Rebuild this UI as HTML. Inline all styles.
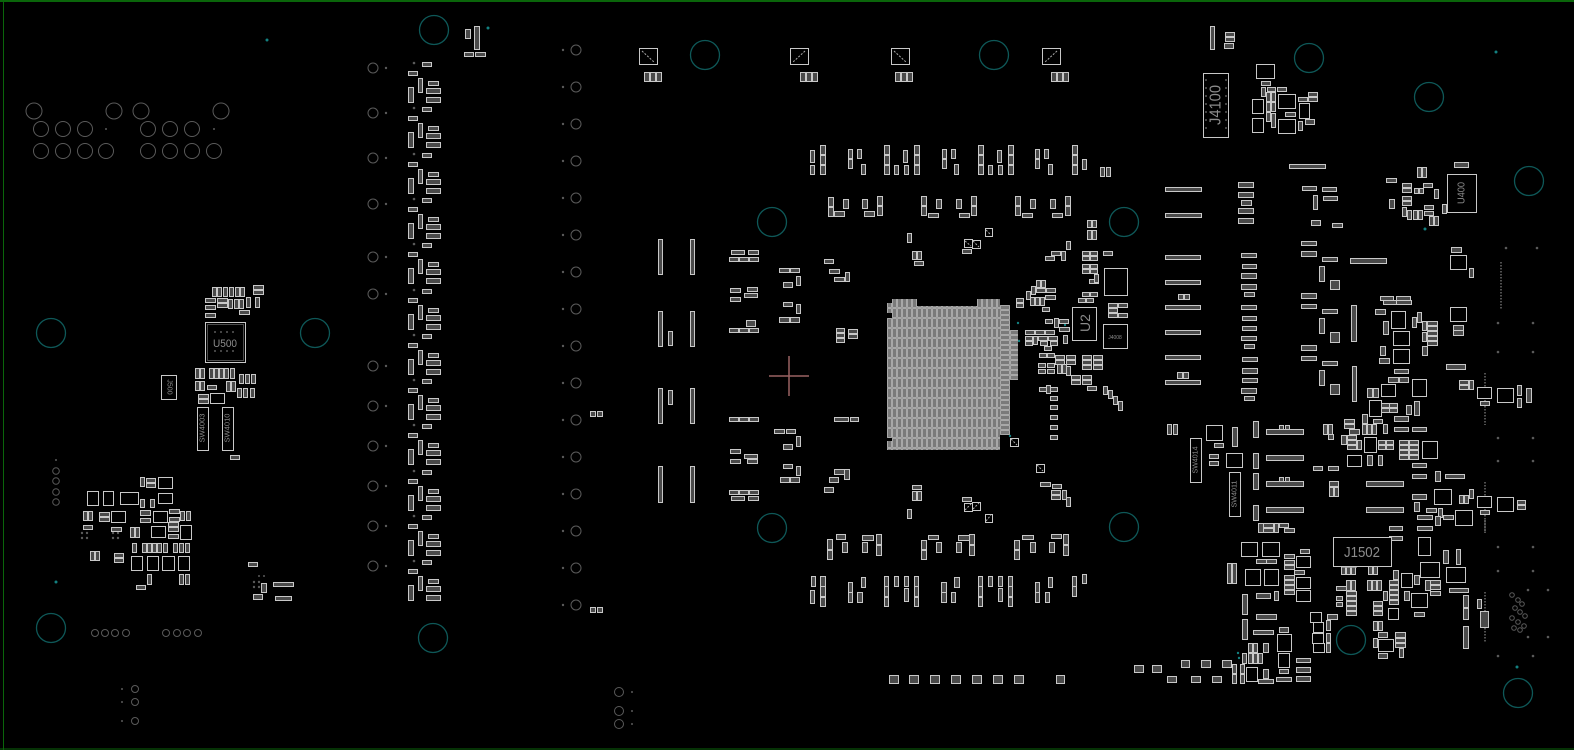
<!DOCTYPE html>
<html><head><meta charset="utf-8"><style>
html,body{margin:0;padding:0;background:#000;}
svg{display:block;}
.c rect{fill:#4a4a4a;stroke:#c8c8c8;stroke-width:1;}
.b rect{fill:#000;stroke:#c8c8c8;stroke-width:1;}
.g circle{fill:none;stroke:#5a5a5a;stroke-width:1;}
.t circle{fill:none;stroke:#0e5858;stroke-width:1.3;}
.d circle{fill:#5a5a5a;}
.td circle{fill:#138080;}
.lbl{fill:#8c8c8c;font-family:"Liberation Sans",sans-serif;}
</style></head><body>
<svg width="1574" height="750" viewBox="0 0 1574 750" xmlns="http://www.w3.org/2000/svg">
<defs>
<pattern id="bga" width="5" height="10" patternUnits="userSpaceOnUse" x="887" y="318"><rect x="0" y="0" width="5" height="10" fill="#222"/><rect x="0.5" y="0.5" width="4" height="9" fill="#7a7a7a" stroke="#cfcfcf" stroke-width="0.7"/></pattern>
<pattern id="bgh" width="10" height="5" patternUnits="userSpaceOnUse" x="1000" y="305"><rect x="0" y="0" width="10" height="5" fill="#222"/><rect x="0.5" y="0.5" width="9" height="4" fill="#7a7a7a" stroke="#cfcfcf" stroke-width="0.7"/></pattern>
<g id="lg">
<circle cx="414" cy="0" r="1.3" fill="#5a5a5a"/>
<g class="c" transform="translate(0.5,0.5)">
<rect x="422" y="-1" width="9" height="4"/>
<rect x="408" y="8" width="9" height="4"/>
<rect x="418" y="15" width="4" height="14"/>
<rect x="428" y="18" width="10" height="4"/>
<rect x="426" y="25" width="14" height="5"/>
<rect x="408" y="24" width="5" height="15"/>
<rect x="426" y="34" width="14" height="5"/>
</g>
</g>
</defs>

<!-- board border -->
<line x1="0" y1="1" x2="1574" y2="1" stroke="#0a650a" stroke-width="2"/>
<line x1="3.5" y1="0" x2="3.5" y2="750" stroke="#0a650a" stroke-width="1"/>
<line x1="0" y1="749" x2="1574" y2="749" stroke="#0a650a" stroke-width="1"/>

<!-- teal mounting holes -->
<g class="t">
<circle cx="434" cy="30" r="14.5"/><circle cx="705" cy="55" r="14.5"/><circle cx="994" cy="55" r="14.5"/>
<circle cx="1309" cy="58" r="14.5"/><circle cx="1429" cy="97" r="14.5"/><circle cx="1529" cy="181" r="14.5"/>
<circle cx="51" cy="333" r="14.5"/><circle cx="315" cy="333" r="14.5"/>
<circle cx="772" cy="222" r="14.5"/><circle cx="1124" cy="222" r="14.5"/>
<circle cx="772" cy="528" r="14.5"/><circle cx="1124" cy="527" r="14.5"/>
<circle cx="51" cy="628" r="14.5"/><circle cx="433" cy="638" r="14.5"/>
<circle cx="1351" cy="640" r="14.5"/><circle cx="1518" cy="693" r="14.5"/>
</g>
<g class="td">
<circle cx="267" cy="40" r="1.5"/><circle cx="488" cy="28" r="1.5"/><circle cx="56" cy="582" r="1.5"/>
<circle cx="1496" cy="52" r="1.5"/><circle cx="1425" cy="229" r="1.5"/><circle cx="1517" cy="667" r="1.5"/>
<circle cx="1238" cy="653" r="1.2"/><circle cx="1239" cy="658" r="1.2"/>
<circle cx="1018" cy="323" r="1.2"/><circle cx="1014" cy="338" r="1.2"/><circle cx="1019" cy="341" r="1.2"/>
<circle cx="1010" cy="436" r="1.2"/><circle cx="1065" cy="325" r="1.2"/>
</g>

<!-- gray connector circles left -->
<g class="g">
<circle cx="34" cy="111" r="8"/><circle cx="114" cy="111" r="8"/><circle cx="141" cy="111" r="8"/><circle cx="221" cy="111" r="8"/>
<circle cx="41" cy="129" r="7.5"/><circle cx="63" cy="129" r="7.5"/><circle cx="85" cy="129" r="7.5"/>
<circle cx="148" cy="129" r="7.5"/><circle cx="170" cy="129" r="7.5"/><circle cx="192" cy="129" r="7.5"/>
<circle cx="41" cy="151" r="7.5"/><circle cx="63" cy="151" r="7.5"/><circle cx="85" cy="151" r="7.5"/><circle cx="106" cy="151" r="7.5"/>
<circle cx="148" cy="151" r="7.5"/><circle cx="170" cy="151" r="7.5"/><circle cx="192" cy="151" r="7.5"/><circle cx="214" cy="151" r="7.5"/>
<circle cx="56" cy="471" r="3.3"/><circle cx="56" cy="481" r="3.3"/><circle cx="56" cy="492" r="3.3"/><circle cx="56" cy="502" r="3.3"/>
<circle cx="95" cy="633" r="3.5"/><circle cx="105" cy="633" r="3.5"/><circle cx="115" cy="633" r="3.5"/><circle cx="126" cy="633" r="3.5"/>
<circle cx="166" cy="633" r="3.5"/><circle cx="177" cy="633" r="3.5"/><circle cx="187" cy="633" r="3.5"/><circle cx="198" cy="633" r="3.5"/>
<circle cx="135" cy="689" r="3.5"/><circle cx="135" cy="702" r="3.5"/><circle cx="135" cy="721" r="3.5"/>
<!-- column x=373 -->
<circle cx="373" cy="68" r="5"/><circle cx="373" cy="113" r="5"/><circle cx="373" cy="158" r="5"/><circle cx="373" cy="204" r="5"/>
<circle cx="373" cy="257" r="5"/><circle cx="373" cy="294" r="5"/><circle cx="373" cy="366" r="5"/><circle cx="373" cy="406" r="5"/>
<circle cx="373" cy="446" r="5"/><circle cx="373" cy="486" r="5"/><circle cx="373" cy="526" r="5"/><circle cx="373" cy="566" r="5"/>
<!-- column x=576 -->
<circle cx="576" cy="50" r="5"/><circle cx="576" cy="87" r="5"/><circle cx="576" cy="124" r="5"/><circle cx="576" cy="161" r="5"/>
<circle cx="576" cy="198" r="5"/><circle cx="576" cy="235" r="5"/><circle cx="576" cy="272" r="5"/><circle cx="576" cy="309" r="5"/>
<circle cx="576" cy="346" r="5"/><circle cx="576" cy="383" r="5"/><circle cx="576" cy="420" r="5"/><circle cx="576" cy="457" r="5"/>
<circle cx="576" cy="494" r="5"/><circle cx="576" cy="531" r="5"/><circle cx="576" cy="568" r="5"/><circle cx="576" cy="605" r="5"/>
<circle cx="619" cy="692" r="4.5"/><circle cx="619" cy="711" r="4.5"/><circle cx="619" cy="724" r="4.5"/>
<!-- right dot cluster -->
<circle cx="1512" cy="595" r="2.3"/><circle cx="1518" cy="600" r="2.3"/><circle cx="1522" cy="604" r="2.3"/><circle cx="1515" cy="608" r="2.3"/>
<circle cx="1520" cy="612" r="2.3"/><circle cx="1525" cy="616" r="2.3"/><circle cx="1512" cy="618" r="2.3"/><circle cx="1518" cy="622" r="2.3"/>
<circle cx="1524" cy="626" r="2.3"/><circle cx="1520" cy="630" r="2.3"/><circle cx="1514" cy="628" r="2.3"/>
</g>
<g class="d">
<circle cx="106" cy="129" r="1"/><circle cx="214" cy="129" r="1"/><circle cx="56" cy="460" r="1"/>
<circle cx="122" cy="689" r="1"/><circle cx="122" cy="702" r="1"/><circle cx="122" cy="721" r="1"/>
<circle cx="386" cy="68" r="1.2"/><circle cx="386" cy="113" r="1.2"/><circle cx="386" cy="158" r="1.2"/><circle cx="386" cy="204" r="1.2"/>
<circle cx="386" cy="257" r="1.2"/><circle cx="386" cy="294" r="1.2"/><circle cx="386" cy="366" r="1.2"/><circle cx="386" cy="406" r="1.2"/>
<circle cx="386" cy="446" r="1.2"/><circle cx="386" cy="486" r="1.2"/><circle cx="386" cy="526" r="1.2"/><circle cx="386" cy="566" r="1.2"/>
<circle cx="563" cy="50" r="1.2"/><circle cx="563" cy="87" r="1.2"/><circle cx="563" cy="124" r="1.2"/><circle cx="563" cy="161" r="1.2"/>
<circle cx="563" cy="198" r="1.2"/><circle cx="563" cy="235" r="1.2"/><circle cx="563" cy="272" r="1.2"/><circle cx="563" cy="309" r="1.2"/>
<circle cx="563" cy="346" r="1.2"/><circle cx="563" cy="383" r="1.2"/><circle cx="563" cy="420" r="1.2"/><circle cx="563" cy="457" r="1.2"/>
<circle cx="563" cy="494" r="1.2"/><circle cx="563" cy="531" r="1.2"/><circle cx="563" cy="568" r="1.2"/><circle cx="563" cy="605" r="1.2"/>
<circle cx="632" cy="692" r="1"/><circle cx="632" cy="711" r="1"/><circle cx="632" cy="724" r="1"/>
<circle cx="1498" cy="323" r="1.3"/><circle cx="1533" cy="323" r="1.3"/><circle cx="1498" cy="352" r="1.3"/><circle cx="1533" cy="352" r="1.3"/>
<circle cx="1498" cy="438" r="1.3"/><circle cx="1533" cy="438" r="1.3"/><circle cx="1498" cy="461" r="1.3"/><circle cx="1533" cy="461" r="1.3"/>
<circle cx="1498" cy="547" r="1.3"/><circle cx="1533" cy="547" r="1.3"/><circle cx="1498" cy="571" r="1.3"/><circle cx="1533" cy="571" r="1.3"/>
<circle cx="1528" cy="590" r="1.3"/><circle cx="1548" cy="590" r="1.3"/><circle cx="1528" cy="637" r="1.3"/><circle cx="1548" cy="637" r="1.3"/>
<circle cx="1498" cy="656" r="1.3"/><circle cx="1533" cy="656" r="1.3"/><circle cx="1506" cy="248" r="1.3"/><circle cx="1537" cy="248" r="1.3"/>
<!-- small via arrays left cluster -->
<circle cx="82" cy="533" r="1.2"/><circle cx="87" cy="533" r="1.2"/><circle cx="82" cy="538" r="1.2"/><circle cx="87" cy="538" r="1.2"/>
<circle cx="113" cy="533" r="1.2"/><circle cx="118" cy="533" r="1.2"/><circle cx="113" cy="538" r="1.2"/><circle cx="118" cy="538" r="1.2"/>
<circle cx="254" cy="582" r="1.2"/><circle cx="259" cy="582" r="1.2"/><circle cx="254" cy="587" r="1.2"/><circle cx="259" cy="587" r="1.2"/>
<circle cx="259" cy="576" r="1"/><circle cx="264" cy="576" r="1"/>
</g>

<!-- dotted lines right -->
<g stroke="#6a6a6a" stroke-width="1.5" stroke-dasharray="1.5,1.5">
<line x1="1501" y1="262" x2="1501" y2="310"/>
<line x1="1485" y1="373" x2="1485" y2="425"/>
<line x1="1485" y1="482" x2="1485" y2="533"/>
<line x1="1485" y1="592" x2="1485" y2="643"/>
<line x1="1485" y1="520" x2="1485" y2="533"/>
</g>

<!-- left column repeated groups -->
<use href="#lg" y="63"/><use href="#lg" y="108"/><use href="#lg" y="154"/><use href="#lg" y="199"/>
<use href="#lg" y="244"/><use href="#lg" y="290"/><use href="#lg" y="335"/><use href="#lg" y="380"/>
<use href="#lg" y="425"/><use href="#lg" y="471"/><use href="#lg" y="516"/><use href="#lg" y="561"/>

<!-- BGA -->
<rect x="887" y="318" width="113" height="120" fill="url(#bga)"/>
<rect x="907" y="306" width="70" height="12" fill="url(#bga)"/>
<rect x="892" y="299" width="25" height="19" fill="url(#bga)"/>
<rect x="887" y="303" width="5" height="10" fill="url(#bga)"/>
<rect x="977" y="299" width="23" height="19" fill="url(#bga)"/>
<rect x="907" y="438" width="70" height="12" fill="url(#bga)"/>
<rect x="892" y="438" width="25" height="12" fill="url(#bga)"/>
<rect x="887" y="441" width="5" height="9" fill="url(#bga)"/>
<rect x="977" y="438" width="23" height="12" fill="url(#bga)"/>
<rect x="1000" y="305" width="10" height="130" fill="url(#bgh)"/>
<rect x="1010" y="330" width="8" height="50" fill="url(#bgh)"/>

<!-- red cross -->
<g stroke="#9a6262" stroke-width="1.5">
<line x1="769" y1="376" x2="809" y2="376"/><line x1="789" y1="356" x2="789" y2="396"/>
</g>

<!-- pads / small parts -->
<g class="c" transform="translate(0.5,0.5)">
<!-- top small connector -->
<rect x="474" y="26" width="5" height="23"/><rect x="465" y="29" width="5" height="9"/><rect x="464" y="52" width="9" height="4"/><rect x="475" y="52" width="10" height="4"/>
<!-- left cluster -->
<rect x="140" y="477" width="4" height="9"/><rect x="146" y="478" width="9" height="4"/><rect x="146" y="483" width="9" height="4"/>
<rect x="140" y="499" width="4" height="8"/><rect x="150" y="499" width="4" height="8"/>
<rect x="83" y="511" width="4" height="9"/><rect x="88" y="511" width="4" height="9"/><rect x="99" y="512" width="10" height="4"/><rect x="99" y="517" width="10" height="4"/>
<rect x="140" y="510" width="10" height="5"/><rect x="140" y="518" width="10" height="4"/>
<rect x="169" y="509" width="10" height="4"/><rect x="169" y="517" width="10" height="4"/><rect x="180" y="511" width="4" height="9"/><rect x="186" y="511" width="4" height="9"/>
<rect x="83" y="525" width="9" height="4"/><rect x="111" y="527" width="10" height="4"/><rect x="130" y="527" width="4" height="10"/><rect x="135" y="527" width="4" height="10"/>
<rect x="168" y="522" width="10" height="4"/><rect x="168" y="527" width="10" height="4"/><rect x="168" y="534" width="10" height="4"/>
<rect x="90" y="551" width="4" height="9"/><rect x="95" y="551" width="4" height="9"/><rect x="114" y="553" width="9" height="4"/><rect x="114" y="558" width="9" height="4"/>
<rect x="132" y="543" width="4" height="9"/><rect x="142" y="543" width="4" height="9"/><rect x="147" y="543" width="4" height="9"/><rect x="152" y="543" width="4" height="9"/>
<rect x="157" y="543" width="4" height="9"/><rect x="163" y="543" width="4" height="9"/><rect x="173" y="543" width="4" height="9"/><rect x="179" y="543" width="4" height="9"/><rect x="185" y="543" width="4" height="9"/>
<rect x="147" y="574" width="4" height="10"/><rect x="179" y="574" width="4" height="10"/><rect x="185" y="574" width="4" height="10"/><rect x="136" y="585" width="9" height="4"/>
<rect x="248" y="562" width="9" height="4"/><rect x="273" y="582" width="20" height="4"/><rect x="275" y="596" width="16" height="4"/><rect x="261" y="583" width="5" height="9"/><rect x="253" y="594" width="9" height="5"/><rect x="230" y="455" width="9" height="4"/>
<!-- U500 area -->
<rect x="212" y="287" width="4" height="9"/><rect x="217" y="287" width="4" height="9"/><rect x="223" y="287" width="4" height="9"/><rect x="229" y="287" width="4" height="9"/><rect x="235" y="287" width="4" height="9"/><rect x="240" y="287" width="4" height="9"/>
<rect x="253" y="285" width="10" height="4"/><rect x="253" y="290" width="10" height="4"/>
<rect x="205" y="298" width="10" height="4"/><rect x="205" y="305" width="10" height="4"/><rect x="205" y="313" width="10" height="4"/>
<rect x="217" y="298" width="10" height="4"/><rect x="217" y="303" width="10" height="4"/>
<rect x="228" y="299" width="4" height="9"/><rect x="234" y="299" width="4" height="9"/><rect x="239" y="299" width="4" height="9"/>
<rect x="246" y="297" width="4" height="10"/><rect x="255" y="297" width="4" height="10"/><rect x="239" y="310" width="10" height="4"/>
<rect x="195" y="368" width="4" height="10"/><rect x="200" y="368" width="4" height="10"/>
<rect x="209" y="368" width="4" height="10"/><rect x="214" y="368" width="4" height="10"/><rect x="219" y="368" width="4" height="10"/><rect x="224" y="368" width="4" height="10"/><rect x="230" y="368" width="4" height="10"/>
<rect x="239" y="374" width="4" height="9"/><rect x="245" y="374" width="4" height="9"/><rect x="251" y="374" width="4" height="9"/>
<rect x="237" y="388" width="4" height="9"/><rect x="243" y="388" width="4" height="9"/><rect x="250" y="388" width="4" height="9"/>
<rect x="195" y="381" width="4" height="9"/><rect x="200" y="381" width="4" height="9"/><rect x="207" y="385" width="9" height="4"/>
<rect x="226" y="381" width="4" height="10"/><rect x="231" y="381" width="4" height="10"/>
<rect x="198" y="394" width="10" height="4"/><rect x="198" y="399" width="10" height="4"/>
<!-- middle column bars -->
<rect x="658" y="239" width="4" height="35"/><rect x="690" y="239" width="4" height="35"/>
<rect x="658" y="311" width="4" height="35"/><rect x="690" y="311" width="4" height="35"/>
<rect x="658" y="388" width="4" height="35"/><rect x="690" y="388" width="4" height="35"/>
<rect x="658" y="466" width="4" height="36"/><rect x="690" y="466" width="4" height="36"/>
<rect x="668" y="331" width="4" height="14"/><rect x="668" y="390" width="4" height="14"/>
<rect x="590" y="411" width="5" height="5"/><rect x="597" y="411" width="5" height="5"/><rect x="590" y="607" width="5" height="5"/><rect x="597" y="607" width="5" height="5"/>
<!-- top triples -->
<rect x="644" y="72" width="5" height="9"/><rect x="650" y="72" width="5" height="9"/><rect x="656" y="72" width="5" height="9"/>
<rect x="800" y="72" width="5" height="9"/><rect x="806" y="72" width="5" height="9"/><rect x="812" y="72" width="5" height="9"/>
<rect x="895" y="72" width="5" height="9"/><rect x="901" y="72" width="5" height="9"/><rect x="907" y="72" width="5" height="9"/>
<rect x="1051" y="72" width="5" height="9"/><rect x="1057" y="72" width="5" height="9"/><rect x="1063" y="72" width="5" height="9"/>
<!-- top row 1 -->
<rect x="810" y="150" width="4" height="12"/><rect x="810" y="165" width="4" height="9"/>
<rect x="820" y="145" width="5" height="9"/><rect x="820" y="155" width="5" height="9"/><rect x="820" y="165" width="5" height="9"/>
<rect x="848" y="149" width="4" height="9"/><rect x="848" y="159" width="4" height="9"/><rect x="857" y="149" width="4" height="9"/><rect x="861" y="164" width="4" height="10"/>
<rect x="884" y="145" width="5" height="9"/><rect x="884" y="155" width="5" height="9"/><rect x="884" y="165" width="5" height="9"/>
<rect x="894" y="165" width="4" height="9"/><rect x="903" y="150" width="4" height="12"/><rect x="904" y="165" width="4" height="9"/>
<rect x="914" y="145" width="5" height="9"/><rect x="914" y="155" width="5" height="9"/><rect x="914" y="165" width="5" height="9"/>
<rect x="942" y="149" width="4" height="9"/><rect x="942" y="159" width="4" height="9"/><rect x="951" y="149" width="4" height="9"/><rect x="954" y="164" width="4" height="10"/>
<rect x="978" y="145" width="5" height="9"/><rect x="978" y="155" width="5" height="9"/><rect x="978" y="165" width="5" height="9"/>
<rect x="988" y="165" width="4" height="9"/><rect x="997" y="150" width="4" height="12"/><rect x="998" y="165" width="4" height="9"/>
<rect x="1008" y="145" width="5" height="9"/><rect x="1008" y="155" width="5" height="9"/><rect x="1008" y="165" width="5" height="9"/>
<rect x="1035" y="149" width="4" height="9"/><rect x="1035" y="159" width="4" height="9"/><rect x="1044" y="149" width="4" height="9"/><rect x="1048" y="164" width="4" height="10"/>
<rect x="1072" y="145" width="5" height="9"/><rect x="1072" y="155" width="5" height="9"/><rect x="1072" y="165" width="5" height="9"/>
<rect x="1082" y="159" width="4" height="10"/><rect x="1100" y="167" width="4" height="9"/><rect x="1106" y="167" width="4" height="9"/>
<!-- top row 2 -->
<rect x="828" y="197" width="5" height="9"/><rect x="828" y="207" width="5" height="9"/><rect x="843" y="199" width="5" height="9"/><rect x="834" y="211" width="10" height="5"/>
<rect x="862" y="199" width="5" height="9"/><rect x="864" y="211" width="10" height="5"/><rect x="877" y="196" width="5" height="9"/><rect x="877" y="206" width="5" height="9"/>
<rect x="921" y="196" width="5" height="9"/><rect x="921" y="206" width="5" height="9"/><rect x="936" y="199" width="5" height="9"/><rect x="928" y="213" width="10" height="4"/>
<rect x="956" y="199" width="5" height="9"/><rect x="959" y="213" width="10" height="4"/><rect x="971" y="196" width="5" height="9"/><rect x="971" y="206" width="5" height="9"/>
<rect x="1015" y="196" width="5" height="9"/><rect x="1015" y="206" width="5" height="9"/><rect x="1030" y="199" width="5" height="9"/><rect x="1022" y="213" width="10" height="4"/>
<rect x="1050" y="199" width="5" height="9"/><rect x="1052" y="213" width="10" height="4"/><rect x="1065" y="196" width="5" height="9"/><rect x="1065" y="206" width="5" height="9"/>
<!-- bottom row A -->
<rect x="827" y="539" width="5" height="10"/><rect x="827" y="550" width="5" height="9"/><rect x="836" y="534" width="9" height="5"/><rect x="842" y="542" width="5" height="10"/>
<rect x="862" y="535" width="11" height="5"/><rect x="862" y="542" width="5" height="10"/><rect x="876" y="534" width="5" height="10"/><rect x="876" y="545" width="5" height="10"/>
<rect x="921" y="540" width="5" height="9"/><rect x="921" y="550" width="5" height="9"/><rect x="928" y="535" width="10" height="4"/><rect x="936" y="542" width="5" height="10"/>
<rect x="956" y="542" width="5" height="10"/><rect x="958" y="535" width="11" height="5"/><rect x="969" y="534" width="5" height="10"/><rect x="969" y="545" width="5" height="10"/>
<rect x="1014" y="540" width="5" height="9"/><rect x="1014" y="550" width="5" height="9"/><rect x="1022" y="535" width="11" height="4"/><rect x="1030" y="542" width="5" height="10"/>
<rect x="1049" y="542" width="5" height="10"/><rect x="1051" y="534" width="10" height="4"/><rect x="1063" y="534" width="5" height="10"/><rect x="1063" y="545" width="5" height="10"/>
<!-- bottom row B -->
<rect x="811" y="576" width="4" height="10"/><rect x="810" y="590" width="4" height="13"/>
<rect x="820" y="576" width="5" height="10"/><rect x="820" y="586" width="5" height="10"/><rect x="820" y="597" width="5" height="9"/>
<rect x="848" y="582" width="4" height="10"/><rect x="848" y="592" width="4" height="10"/><rect x="857" y="592" width="5" height="10"/><rect x="861" y="577" width="4" height="10"/>
<rect x="884" y="576" width="4" height="10"/><rect x="884" y="586" width="4" height="10"/><rect x="884" y="597" width="4" height="9"/>
<rect x="894" y="576" width="4" height="10"/><rect x="904" y="576" width="4" height="10"/><rect x="904" y="588" width="4" height="13"/>
<rect x="914" y="576" width="4" height="10"/><rect x="914" y="586" width="4" height="10"/><rect x="914" y="597" width="4" height="9"/>
<rect x="941" y="582" width="5" height="10"/><rect x="941" y="592" width="5" height="10"/><rect x="951" y="592" width="4" height="10"/><rect x="954" y="577" width="5" height="10"/>
<rect x="978" y="576" width="4" height="10"/><rect x="978" y="586" width="4" height="10"/><rect x="978" y="597" width="4" height="9"/>
<rect x="988" y="576" width="4" height="10"/><rect x="998" y="576" width="4" height="10"/><rect x="998" y="588" width="4" height="13"/>
<rect x="1008" y="576" width="4" height="10"/><rect x="1008" y="586" width="4" height="10"/><rect x="1008" y="597" width="4" height="9"/>
<rect x="1035" y="582" width="4" height="10"/><rect x="1035" y="592" width="4" height="10"/><rect x="1045" y="592" width="4" height="10"/><rect x="1048" y="577" width="4" height="10"/>
<rect x="1072" y="576" width="4" height="10"/><rect x="1072" y="586" width="4" height="10"/><rect x="1082" y="574" width="4" height="9"/>
<!-- bottom two-pad row -->
<rect x="889" y="675" width="9" height="8"/><rect x="909" y="675" width="9" height="8"/><rect x="930" y="675" width="9" height="8"/><rect x="951" y="675" width="9" height="8"/>
<rect x="972" y="675" width="9" height="8"/><rect x="993" y="675" width="9" height="8"/><rect x="1014" y="675" width="9" height="8"/><rect x="1056" y="675" width="8" height="8"/>
<!-- left of BGA -->
<rect x="731" y="250" width="13" height="4"/><rect x="748" y="250" width="10" height="4"/>
<rect x="729" y="257" width="9" height="4"/><rect x="739" y="257" width="9" height="4"/><rect x="749" y="257" width="9" height="4"/>
<rect x="779" y="268" width="10" height="4"/><rect x="790" y="268" width="9" height="4"/>
<rect x="730" y="288" width="10" height="4"/><rect x="747" y="287" width="10" height="4"/><rect x="744" y="293" width="13" height="4"/><rect x="730" y="297" width="10" height="4"/>
<rect x="783" y="282" width="9" height="5"/><rect x="796" y="276" width="4" height="9"/>
<rect x="783" y="302" width="9" height="4"/><rect x="796" y="304" width="4" height="9"/>
<rect x="779" y="317" width="10" height="5"/><rect x="790" y="317" width="9" height="5"/>
<rect x="746" y="320" width="9" height="6"/>
<rect x="729" y="328" width="9" height="4"/><rect x="739" y="328" width="9" height="4"/><rect x="749" y="328" width="9" height="4"/>
<rect x="824" y="259" width="9" height="4"/><rect x="829" y="269" width="10" height="4"/><rect x="834" y="277" width="10" height="4"/><rect x="845" y="272" width="4" height="9"/>
<rect x="836" y="328" width="8" height="4"/><rect x="836" y="333" width="8" height="4"/><rect x="836" y="338" width="8" height="4"/><rect x="848" y="329" width="9" height="4"/><rect x="848" y="334" width="9" height="4"/>
<rect x="729" y="417" width="9" height="4"/><rect x="739" y="417" width="9" height="4"/><rect x="749" y="417" width="9" height="4"/>
<rect x="834" y="417" width="14" height="4"/><rect x="850" y="417" width="8" height="4"/>
<rect x="774" y="429" width="10" height="4"/><rect x="786" y="429" width="9" height="4"/><rect x="796" y="436" width="4" height="10"/><rect x="783" y="444" width="9" height="5"/>
<rect x="730" y="449" width="10" height="4"/><rect x="744" y="454" width="13" height="4"/><rect x="747" y="459" width="10" height="4"/><rect x="730" y="459" width="10" height="4"/>
<rect x="783" y="464" width="9" height="4"/><rect x="796" y="466" width="4" height="9"/>
<rect x="780" y="477" width="9" height="5"/><rect x="790" y="477" width="9" height="5"/>
<rect x="834" y="469" width="10" height="5"/><rect x="844" y="469" width="5" height="10"/><rect x="829" y="477" width="9" height="5"/><rect x="824" y="487" width="9" height="5"/>
<rect x="729" y="490" width="9" height="4"/><rect x="739" y="490" width="9" height="4"/><rect x="749" y="490" width="9" height="4"/>
<rect x="731" y="496" width="13" height="4"/><rect x="748" y="496" width="10" height="4"/>
<!-- around BGA top/bottom -->
<rect x="907" y="233" width="4" height="9"/><rect x="912" y="251" width="4" height="8"/><rect x="917" y="251" width="4" height="8"/><rect x="914" y="261" width="9" height="4"/>
<rect x="962" y="249" width="9" height="4"/>
<rect x="912" y="485" width="9" height="4"/><rect x="912" y="491" width="4" height="9"/><rect x="917" y="491" width="4" height="9"/><rect x="907" y="509" width="4" height="9"/>
<rect x="962" y="497" width="9" height="4"/>
<!-- right of BGA -->
<rect x="1066" y="241" width="4" height="8"/><rect x="1051" y="251" width="9" height="4"/><rect x="1045" y="256" width="9" height="4"/><rect x="1061" y="251" width="4" height="9"/>
<rect x="1087" y="220" width="4" height="7"/><rect x="1092" y="220" width="4" height="7"/><rect x="1087" y="230" width="4" height="9"/><rect x="1092" y="230" width="4" height="9"/>
<rect x="1082" y="251" width="7" height="4"/><rect x="1090" y="251" width="7" height="4"/><rect x="1082" y="256" width="7" height="4"/><rect x="1090" y="256" width="7" height="4"/>
<rect x="1082" y="264" width="7" height="4"/><rect x="1090" y="264" width="7" height="4"/><rect x="1082" y="269" width="7" height="4"/><rect x="1090" y="269" width="7" height="4"/>
<rect x="1103" y="251" width="9" height="4"/><rect x="1089" y="279" width="9" height="4"/><rect x="1094" y="274" width="4" height="8"/>
<rect x="1036" y="280" width="4" height="7"/><rect x="1041" y="280" width="4" height="7"/>
<rect x="1026" y="291" width="4" height="8"/><rect x="1031" y="286" width="4" height="8"/><rect x="1036" y="288" width="9" height="4"/><rect x="1046" y="288" width="9" height="4"/>
<rect x="1030" y="297" width="4" height="8"/><rect x="1035" y="297" width="4" height="8"/><rect x="1040" y="297" width="4" height="8"/><rect x="1045" y="295" width="10" height="4"/>
<rect x="1016" y="298" width="7" height="4"/><rect x="1016" y="303" width="7" height="4"/>
<rect x="1082" y="292" width="7" height="4"/><rect x="1090" y="292" width="7" height="4"/><rect x="1078" y="298" width="7" height="4"/><rect x="1086" y="298" width="7" height="4"/>
<rect x="1042" y="307" width="7" height="4"/><rect x="1045" y="319" width="7" height="4"/><rect x="1054" y="318" width="4" height="9"/><rect x="1059" y="319" width="9" height="4"/><rect x="1059" y="327" width="10" height="4"/>
<rect x="1108" y="303" width="9" height="4"/><rect x="1118" y="303" width="9" height="4"/><rect x="1108" y="308" width="9" height="4"/><rect x="1108" y="313" width="9" height="4"/><rect x="1118" y="313" width="9" height="4"/>
<rect x="1025" y="330" width="9" height="4"/><rect x="1035" y="330" width="9" height="4"/><rect x="1045" y="330" width="9" height="4"/>
<rect x="1025" y="336" width="7" height="4"/><rect x="1033" y="336" width="4" height="8"/><rect x="1038" y="336" width="9" height="4"/><rect x="1048" y="336" width="9" height="4"/>
<rect x="1025" y="341" width="7" height="4"/><rect x="1040" y="341" width="7" height="4"/><rect x="1050" y="341" width="7" height="4"/>
<rect x="1063" y="335" width="4" height="8"/><rect x="1044" y="346" width="7" height="4"/>
<rect x="1039" y="353" width="7" height="4"/><rect x="1047" y="353" width="7" height="4"/>
<rect x="1055" y="355" width="9" height="4"/><rect x="1066" y="355" width="9" height="4"/><rect x="1055" y="360" width="9" height="4"/><rect x="1066" y="360" width="9" height="4"/>
<rect x="1082" y="355" width="9" height="4"/><rect x="1093" y="355" width="9" height="4"/><rect x="1082" y="360" width="9" height="4"/><rect x="1093" y="360" width="9" height="4"/><rect x="1082" y="365" width="9" height="4"/><rect x="1093" y="365" width="9" height="4"/>
<rect x="1038" y="363" width="7" height="4"/><rect x="1047" y="363" width="7" height="4"/><rect x="1038" y="369" width="7" height="4"/><rect x="1047" y="369" width="7" height="4"/>
<rect x="1057" y="364" width="4" height="9"/><rect x="1062" y="364" width="4" height="9"/><rect x="1066" y="366" width="4" height="9"/>
<rect x="1071" y="375" width="9" height="4"/><rect x="1071" y="380" width="9" height="4"/><rect x="1082" y="375" width="9" height="4"/><rect x="1082" y="380" width="9" height="4"/><rect x="1087" y="386" width="9" height="4"/>
<rect x="1103" y="386" width="4" height="8"/><rect x="1108" y="390" width="4" height="8"/><rect x="1113" y="396" width="4" height="8"/><rect x="1118" y="401" width="4" height="9"/>
<rect x="1039" y="387" width="7" height="4"/><rect x="1046" y="385" width="4" height="8"/><rect x="1050" y="387" width="7" height="4"/>
<rect x="1050" y="396" width="7" height="4"/><rect x="1050" y="405" width="7" height="4"/><rect x="1050" y="415" width="7" height="4"/><rect x="1050" y="425" width="7" height="4"/><rect x="1050" y="435" width="7" height="4"/>
<rect x="1040" y="482" width="10" height="4"/><rect x="1052" y="484" width="9" height="4"/><rect x="1051" y="490" width="9" height="4"/><rect x="1051" y="495" width="9" height="4"/><rect x="1062" y="490" width="4" height="9"/><rect x="1066" y="497" width="4" height="9"/>
<!-- right region top -->
<rect x="1210" y="26" width="4" height="23"/><rect x="1225" y="32" width="9" height="4"/><rect x="1225" y="37" width="9" height="4"/><rect x="1224" y="43" width="9" height="5"/>
<rect x="1261" y="81" width="9" height="4"/><rect x="1261" y="87" width="4" height="9"/><rect x="1267" y="87" width="8" height="4"/><rect x="1277" y="87" width="9" height="4"/>
<rect x="1266" y="92" width="4" height="9"/><rect x="1271" y="92" width="4" height="9"/><rect x="1266" y="102" width="4" height="9"/><rect x="1271" y="102" width="4" height="9"/><rect x="1266" y="112" width="4" height="9"/><rect x="1271" y="113" width="4" height="14"/>
<rect x="1285" y="112" width="10" height="4"/>
<rect x="1298" y="97" width="9" height="4"/><rect x="1308" y="97" width="9" height="4"/><rect x="1308" y="92" width="9" height="4"/><rect x="1298" y="121" width="4" height="9"/><rect x="1305" y="119" width="9" height="5"/>
<rect x="1289" y="164" width="36" height="4"/>
<rect x="1165" y="187" width="36" height="4"/><rect x="1165" y="213" width="36" height="4"/><rect x="1165" y="255" width="35" height="4"/><rect x="1165" y="280" width="35" height="4"/>
<rect x="1165" y="305" width="35" height="4"/><rect x="1165" y="330" width="35" height="4"/><rect x="1165" y="355" width="35" height="4"/><rect x="1165" y="380" width="35" height="4"/>
<rect x="1238" y="182" width="15" height="5"/><rect x="1238" y="192" width="15" height="5"/><rect x="1241" y="200" width="10" height="5"/><rect x="1238" y="208" width="15" height="5"/><rect x="1238" y="218" width="15" height="5"/>
<rect x="1241" y="253" width="15" height="4"/><rect x="1242" y="264" width="14" height="4"/><rect x="1241" y="273" width="15" height="5"/><rect x="1241" y="284" width="15" height="5"/><rect x="1244" y="292" width="10" height="4"/>
<rect x="1241" y="305" width="15" height="4"/><rect x="1242" y="316" width="14" height="4"/><rect x="1242" y="326" width="14" height="4"/><rect x="1241" y="336" width="15" height="4"/><rect x="1244" y="344" width="10" height="4"/>
<rect x="1242" y="357" width="15" height="4"/><rect x="1242" y="368" width="15" height="5"/><rect x="1242" y="378" width="15" height="4"/><rect x="1241" y="388" width="15" height="5"/><rect x="1244" y="396" width="10" height="4"/>
<rect x="1178" y="294" width="5" height="5"/><rect x="1184" y="294" width="5" height="5"/><rect x="1177" y="372" width="5" height="6"/><rect x="1183" y="372" width="5" height="6"/>
<rect x="1302" y="186" width="14" height="4"/><rect x="1322" y="187" width="14" height="4"/><rect x="1323" y="196" width="14" height="4"/><rect x="1313" y="195" width="4" height="14"/>
<rect x="1311" y="220" width="9" height="5"/><rect x="1332" y="223" width="10" height="4"/><rect x="1301" y="241" width="15" height="4"/><rect x="1301" y="251" width="15" height="5"/>
<rect x="1322" y="257" width="15" height="4"/><rect x="1319" y="266" width="5" height="15"/><rect x="1330" y="280" width="9" height="9"/><rect x="1301" y="293" width="15" height="5"/>
<rect x="1350" y="258" width="36" height="5"/><rect x="1386" y="178" width="10" height="4"/><rect x="1389" y="199" width="5" height="9"/>
<rect x="1301" y="304" width="15" height="4"/><rect x="1301" y="345" width="15" height="5"/><rect x="1301" y="356" width="15" height="4"/>
<rect x="1322" y="309" width="15" height="4"/><rect x="1322" y="361" width="15" height="4"/><rect x="1319" y="318" width="5" height="15"/><rect x="1319" y="370" width="5" height="15"/>
<rect x="1330" y="332" width="9" height="10"/><rect x="1330" y="384" width="9" height="10"/><rect x="1351" y="305" width="5" height="36"/><rect x="1352" y="366" width="4" height="35"/>
<!-- U400 cluster -->
<rect x="1417" y="167" width="4" height="10"/><rect x="1422" y="167" width="4" height="10"/><rect x="1454" y="162" width="14" height="5"/><rect x="1442" y="204" width="4" height="9"/><rect x="1423" y="183" width="9" height="4"/>
<rect x="1402" y="183" width="9" height="4"/><rect x="1402" y="188" width="9" height="4"/><rect x="1402" y="196" width="9" height="4"/><rect x="1402" y="201" width="9" height="4"/><rect x="1402" y="207" width="4" height="9"/>
<rect x="1407" y="210" width="4" height="9"/><rect x="1413" y="210" width="4" height="9"/><rect x="1418" y="210" width="4" height="9"/><rect x="1424" y="205" width="9" height="4"/><rect x="1424" y="211" width="9" height="4"/>
<rect x="1434" y="189" width="4" height="9"/><rect x="1429" y="216" width="4" height="9"/><rect x="1434" y="216" width="4" height="9"/><rect x="1414" y="188" width="4" height="5"/><rect x="1419" y="188" width="4" height="5"/>
<rect x="1451" y="247" width="10" height="5"/><rect x="1469" y="268" width="4" height="9"/><rect x="1380" y="296" width="13" height="4"/><rect x="1396" y="296" width="14" height="4"/>
<!-- zoom5 area pads -->
<rect x="1167" y="424" width="4" height="10"/><rect x="1173" y="424" width="4" height="10"/><rect x="1214" y="443" width="9" height="4"/><rect x="1232" y="427" width="5" height="19"/>
<rect x="1209" y="454" width="9" height="4"/><rect x="1209" y="461" width="9" height="4"/>
<rect x="1253" y="421" width="5" height="16"/><rect x="1253" y="453" width="5" height="15"/><rect x="1253" y="473" width="5" height="16"/><rect x="1253" y="505" width="5" height="15"/>
<rect x="1266" y="429" width="37" height="5"/><rect x="1279" y="425" width="4" height="4"/><rect x="1285" y="425" width="4" height="4"/>
<rect x="1266" y="455" width="37" height="5"/><rect x="1266" y="481" width="37" height="5"/><rect x="1279" y="477" width="4" height="4"/><rect x="1285" y="477" width="4" height="4"/><rect x="1266" y="507" width="37" height="5"/>
<rect x="1313" y="466" width="9" height="4"/><rect x="1328" y="466" width="10" height="4"/>
<rect x="1329" y="481" width="9" height="5"/><rect x="1329" y="487" width="4" height="9"/><rect x="1334" y="487" width="4" height="9"/>
<rect x="1323" y="424" width="4" height="10"/><rect x="1328" y="424" width="4" height="10"/><rect x="1328" y="434" width="5" height="5"/><rect x="1341" y="435" width="5" height="9"/>
<rect x="1344" y="419" width="10" height="4"/><rect x="1344" y="424" width="10" height="4"/><rect x="1349" y="429" width="10" height="5"/>
<rect x="1347" y="435" width="9" height="4"/><rect x="1347" y="440" width="9" height="4"/><rect x="1347" y="445" width="9" height="4"/><rect x="1357" y="440" width="4" height="9"/>
<rect x="1362" y="414" width="5" height="9"/><rect x="1362" y="424" width="4" height="10"/><rect x="1367" y="424" width="4" height="10"/><rect x="1372" y="424" width="4" height="10"/><rect x="1373" y="419" width="9" height="4"/>
<rect x="1367" y="455" width="5" height="10"/><rect x="1378" y="455" width="4" height="10"/>
<rect x="1366" y="481" width="37" height="5"/><rect x="1366" y="507" width="37" height="5"/>
<rect x="1383" y="424" width="4" height="9"/><rect x="1378" y="440" width="7" height="4"/><rect x="1386" y="440" width="7" height="4"/><rect x="1378" y="445" width="7" height="4"/><rect x="1386" y="445" width="7" height="4"/>
<rect x="1381" y="403" width="8" height="4"/><rect x="1381" y="408" width="8" height="4"/><rect x="1389" y="403" width="8" height="4"/><rect x="1389" y="408" width="8" height="4"/>
<rect x="1406" y="405" width="5" height="9"/><rect x="1388" y="377" width="10" height="5"/><rect x="1399" y="377" width="9" height="5"/><rect x="1414" y="401" width="5" height="14"/>
<rect x="1394" y="416" width="14" height="5"/><rect x="1394" y="427" width="14" height="4"/><rect x="1412" y="427" width="14" height="4"/>
<rect x="1399" y="440" width="9" height="4"/><rect x="1409" y="440" width="9" height="4"/><rect x="1399" y="445" width="9" height="4"/><rect x="1409" y="445" width="9" height="4"/>
<rect x="1399" y="450" width="9" height="4"/><rect x="1409" y="450" width="9" height="4"/><rect x="1399" y="455" width="9" height="4"/><rect x="1409" y="455" width="9" height="4"/>
<rect x="1412" y="463" width="14" height="4"/><rect x="1412" y="474" width="14" height="4"/><rect x="1435" y="471" width="5" height="10"/><rect x="1445" y="474" width="19" height="4"/>
<rect x="1383" y="300" width="15" height="4"/><rect x="1375" y="309" width="10" height="5"/><rect x="1396" y="300" width="15" height="4"/><rect x="1383" y="321" width="5" height="13"/>
<rect x="1412" y="317" width="4" height="10"/><rect x="1417" y="312" width="4" height="10"/>
<rect x="1422" y="321" width="4" height="9"/><rect x="1427" y="321" width="10" height="4"/><rect x="1427" y="326" width="10" height="4"/><rect x="1427" y="331" width="10" height="4"/><rect x="1427" y="336" width="10" height="4"/><rect x="1427" y="341" width="10" height="4"/>
<rect x="1422" y="332" width="4" height="9"/><rect x="1422" y="346" width="5" height="9"/>
<rect x="1380" y="346" width="5" height="9"/><rect x="1379" y="358" width="10" height="5"/><rect x="1394" y="369" width="14" height="4"/><rect x="1367" y="388" width="5" height="9"/><rect x="1373" y="388" width="5" height="9"/>
<rect x="1453" y="325" width="10" height="5"/><rect x="1453" y="330" width="10" height="5"/><rect x="1446" y="364" width="19" height="5"/>
<rect x="1459" y="380" width="9" height="4"/><rect x="1459" y="385" width="9" height="4"/><rect x="1469" y="380" width="4" height="9"/><rect x="1480" y="401" width="9" height="4"/>
<rect x="1517" y="385" width="4" height="10"/><rect x="1517" y="398" width="4" height="9"/><rect x="1526" y="388" width="5" height="14"/>
<rect x="1517" y="500" width="8" height="4"/><rect x="1517" y="505" width="8" height="4"/><rect x="1480" y="510" width="9" height="4"/>
<rect x="1459" y="495" width="4" height="8"/><rect x="1464" y="495" width="4" height="8"/><rect x="1469" y="489" width="4" height="9"/>
<rect x="1412" y="494" width="14" height="5"/><rect x="1414" y="502" width="5" height="9"/><rect x="1426" y="508" width="10" height="4"/><rect x="1438" y="508" width="4" height="9"/><rect x="1443" y="515" width="10" height="4"/>
<rect x="1417" y="515" width="15" height="4"/><rect x="1417" y="526" width="15" height="4"/><rect x="1435" y="516" width="5" height="9"/>
<!-- zoom6 area pads -->
<rect x="1258" y="523" width="5" height="9"/><rect x="1263" y="523" width="10" height="4"/><rect x="1263" y="528" width="10" height="4"/><rect x="1274" y="523" width="4" height="9"/><rect x="1279" y="523" width="9" height="4"/><rect x="1284" y="528" width="10" height="4"/>
<rect x="1227" y="563" width="4" height="20"/><rect x="1232" y="563" width="4" height="20"/>
<rect x="1256" y="559" width="10" height="4"/><rect x="1266" y="559" width="10" height="4"/>
<rect x="1284" y="554" width="10" height="4"/><rect x="1284" y="560" width="10" height="4"/><rect x="1284" y="565" width="10" height="4"/>
<rect x="1300" y="549" width="9" height="4"/><rect x="1294" y="570" width="10" height="4"/>
<rect x="1284" y="575" width="10" height="4"/><rect x="1284" y="580" width="10" height="4"/><rect x="1284" y="585" width="10" height="4"/><rect x="1284" y="590" width="10" height="4"/>
<rect x="1256" y="593" width="14" height="5"/><rect x="1274" y="591" width="4" height="9"/>
<rect x="1242" y="594" width="5" height="20"/><rect x="1242" y="619" width="5" height="20"/>
<rect x="1256" y="614" width="20" height="5"/><rect x="1327" y="614" width="10" height="5"/><rect x="1326" y="620" width="4" height="10"/><rect x="1326" y="633" width="4" height="9"/><rect x="1326" y="643" width="4" height="9"/>
<rect x="1253" y="630" width="20" height="4"/><rect x="1279" y="627" width="9" height="5"/>
<rect x="1248" y="643" width="4" height="9"/><rect x="1253" y="643" width="4" height="9"/><rect x="1263" y="643" width="5" height="9"/>
<rect x="1242" y="653" width="4" height="10"/><rect x="1248" y="653" width="4" height="10"/><rect x="1253" y="653" width="4" height="10"/><rect x="1258" y="653" width="4" height="10"/>
<rect x="1279" y="669" width="9" height="4"/>
<rect x="1232" y="664" width="4" height="9"/><rect x="1232" y="674" width="4" height="9"/><rect x="1240" y="664" width="4" height="9"/><rect x="1240" y="674" width="4" height="9"/>
<rect x="1263" y="669" width="5" height="9"/><rect x="1258" y="679" width="15" height="4"/><rect x="1276" y="677" width="15" height="4"/>
<rect x="1296" y="658" width="14" height="4"/><rect x="1296" y="667" width="14" height="5"/><rect x="1296" y="676" width="14" height="5"/>
<rect x="1134" y="665" width="9" height="7"/><rect x="1152" y="665" width="9" height="7"/><rect x="1181" y="660" width="8" height="7"/><rect x="1201" y="660" width="9" height="7"/><rect x="1222" y="660" width="9" height="7"/>
<rect x="1167" y="676" width="9" height="6"/><rect x="1191" y="676" width="9" height="6"/><rect x="1212" y="676" width="9" height="6"/>
<rect x="1341" y="566" width="4" height="8"/><rect x="1346" y="566" width="4" height="8"/><rect x="1351" y="566" width="4" height="8"/><rect x="1368" y="566" width="4" height="8"/><rect x="1373" y="566" width="4" height="8"/>
<rect x="1389" y="526" width="13" height="4"/><rect x="1389" y="536" width="13" height="4"/><rect x="1417" y="526" width="15" height="4"/><rect x="1456" y="520" width="16" height="5"/>
<rect x="1443" y="550" width="5" height="13"/><rect x="1456" y="549" width="4" height="15"/><rect x="1393" y="570" width="5" height="9"/><rect x="1414" y="575" width="5" height="9"/>
<rect x="1346" y="580" width="4" height="10"/><rect x="1351" y="580" width="4" height="10"/><rect x="1367" y="580" width="4" height="10"/><rect x="1372" y="580" width="4" height="10"/><rect x="1377" y="580" width="4" height="10"/>
<rect x="1389" y="580" width="9" height="4"/><rect x="1389" y="585" width="9" height="4"/><rect x="1389" y="590" width="9" height="4"/><rect x="1389" y="595" width="9" height="4"/><rect x="1389" y="600" width="9" height="4"/>
<rect x="1336" y="586" width="10" height="4"/>
<rect x="1346" y="591" width="10" height="4"/><rect x="1346" y="596" width="10" height="4"/><rect x="1346" y="601" width="10" height="4"/><rect x="1346" y="606" width="10" height="4"/><rect x="1346" y="611" width="10" height="4"/>
<rect x="1336" y="596" width="6" height="4"/><rect x="1336" y="602" width="6" height="4"/>
<rect x="1373" y="601" width="9" height="4"/><rect x="1373" y="606" width="9" height="4"/><rect x="1373" y="611" width="9" height="4"/>
<rect x="1383" y="591" width="4" height="9"/><rect x="1404" y="591" width="5" height="9"/>
<rect x="1425" y="580" width="5" height="10"/><rect x="1430" y="580" width="10" height="4"/><rect x="1430" y="585" width="10" height="4"/><rect x="1430" y="591" width="10" height="4"/>
<rect x="1414" y="612" width="10" height="4"/><rect x="1373" y="621" width="4" height="9"/><rect x="1378" y="621" width="4" height="9"/>
<rect x="1378" y="632" width="9" height="5"/><rect x="1395" y="632" width="10" height="5"/><rect x="1395" y="638" width="10" height="4"/><rect x="1395" y="643" width="10" height="4"/>
<rect x="1373" y="638" width="4" height="9"/><rect x="1378" y="653" width="9" height="5"/><rect x="1399" y="648" width="4" height="9"/>
<rect x="1449" y="588" width="19" height="4"/><rect x="1463" y="595" width="5" height="12"/><rect x="1463" y="608" width="5" height="11"/><rect x="1463" y="626" width="5" height="22"/>
<rect x="1477" y="599" width="4" height="9"/><rect x="1480" y="611" width="8" height="16"/>
<rect x="1341" y="566" width="15" height="1" style="stroke-width:0.5"/>
</g>

<!-- outlined boxes -->
<g class="b" transform="translate(0.5,0.5)">
<rect x="158" y="477" width="14" height="11"/><rect x="87" y="491" width="11" height="14"/><rect x="103" y="491" width="10" height="14"/><rect x="120" y="492" width="18" height="12"/>
<rect x="158" y="493" width="14" height="10"/><rect x="111" y="511" width="14" height="11"/><rect x="153" y="511" width="14" height="11"/><rect x="151" y="526" width="14" height="11"/>
<rect x="180" y="525" width="11" height="14"/><rect x="131" y="556" width="11" height="14"/><rect x="147" y="556" width="11" height="14"/><rect x="162" y="556" width="12" height="14"/><rect x="178" y="556" width="11" height="14"/>
<rect x="210" y="393" width="14" height="10"/>
<rect x="205" y="322" width="40" height="40"/>
<rect x="161" y="375" width="15" height="24"/>
<rect x="197" y="407" width="11" height="43"/><rect x="222" y="407" width="11" height="43"/>
<!-- diag boxes -->
<rect x="639" y="48" width="18" height="16"/><rect x="790" y="48" width="18" height="16"/><rect x="891" y="48" width="18" height="16"/><rect x="1042" y="48" width="18" height="16"/>
<rect x="985" y="228" width="7" height="8"/><rect x="964" y="239" width="8" height="8"/><rect x="972" y="240" width="8" height="8"/>
<rect x="1104" y="268" width="23" height="27"/><rect x="1072" y="307" width="24" height="33"/><rect x="1103" y="324" width="24" height="24"/>
<rect x="1036" y="464" width="8" height="8"/><rect x="1010" y="438" width="8" height="8"/>
<rect x="964" y="503" width="8" height="8"/><rect x="972" y="502" width="8" height="8"/><rect x="985" y="514" width="7" height="8"/>
<!-- right region -->
<rect x="1203" y="73" width="25" height="64"/>
<rect x="1256" y="64" width="18" height="14"/><rect x="1252" y="99" width="11" height="14"/><rect x="1252" y="118" width="11" height="14"/>
<rect x="1278" y="94" width="17" height="14"/><rect x="1278" y="119" width="17" height="14"/><rect x="1299" y="103" width="10" height="15"/>
<rect x="1447" y="174" width="29" height="38"/><rect x="1450" y="255" width="16" height="14"/>
<rect x="1206" y="425" width="16" height="15"/><rect x="1226" y="453" width="16" height="14"/><rect x="1347" y="455" width="14" height="11"/><rect x="1364" y="437" width="12" height="15"/>
<rect x="1369" y="400" width="12" height="16"/><rect x="1381" y="384" width="14" height="12"/><rect x="1412" y="379" width="14" height="17"/><rect x="1422" y="441" width="15" height="17"/>
<rect x="1391" y="311" width="14" height="17"/><rect x="1393" y="331" width="16" height="14"/><rect x="1393" y="349" width="16" height="14"/><rect x="1450" y="307" width="16" height="14"/>
<rect x="1477" y="387" width="14" height="11"/><rect x="1497" y="388" width="16" height="14"/><rect x="1477" y="496" width="14" height="11"/><rect x="1497" y="497" width="16" height="14"/>
<rect x="1434" y="489" width="17" height="15"/><rect x="1455" y="510" width="17" height="15"/><rect x="1418" y="537" width="12" height="18"/>
<rect x="1190" y="438" width="11" height="44"/><rect x="1229" y="472" width="11" height="44"/>
<rect x="1333" y="537" width="58" height="29"/>
<rect x="1241" y="542" width="16" height="14"/><rect x="1262" y="542" width="17" height="14"/><rect x="1245" y="569" width="15" height="16"/><rect x="1264" y="569" width="14" height="16"/>
<rect x="1296" y="556" width="14" height="11"/><rect x="1296" y="577" width="14" height="11"/><rect x="1296" y="590" width="14" height="11"/>
<rect x="1310" y="612" width="11" height="10"/><rect x="1313" y="622" width="10" height="10"/><rect x="1312" y="633" width="11" height="10"/><rect x="1313" y="643" width="11" height="9"/>
<rect x="1277" y="634" width="14" height="17"/><rect x="1278" y="653" width="11" height="14"/><rect x="1246" y="667" width="11" height="14"/>
<rect x="1420" y="562" width="19" height="15"/><rect x="1446" y="567" width="19" height="15"/><rect x="1401" y="573" width="11" height="14"/><rect x="1411" y="593" width="16" height="14"/>
<rect x="1388" y="608" width="10" height="11"/><rect x="1378" y="639" width="15" height="12"/>
</g>

<!-- diagonals in boxes -->
<g stroke="#aaaaaa" stroke-width="1" stroke-dasharray="2,1.5">
<line x1="642" y1="51" x2="654" y2="62"/><line x1="805" y1="51" x2="793" y2="62"/><line x1="894" y1="51" x2="906" y2="62"/><line x1="1057" y1="51" x2="1045" y2="62"/>
<line x1="986" y1="230" x2="991" y2="235"/><line x1="965" y1="241" x2="971" y2="246"/><line x1="973" y1="241" x2="979" y2="247"/>
<line x1="1037" y1="465" x2="1043" y2="471"/><line x1="1011" y1="439" x2="1017" y2="445"/>
<line x1="965" y1="510" x2="971" y2="504"/><line x1="973" y1="509" x2="979" y2="503"/><line x1="986" y1="521" x2="991" y2="515"/>
</g>

<!-- pin dots on big parts -->
<g class="d">
<circle cx="1206" cy="80" r="1"/><circle cx="1206" cy="88" r="1"/><circle cx="1206" cy="96" r="1"/><circle cx="1206" cy="104" r="1"/><circle cx="1206" cy="112" r="1"/><circle cx="1206" cy="120" r="1"/><circle cx="1206" cy="128" r="1"/>
<circle cx="1226" cy="80" r="1"/><circle cx="1226" cy="88" r="1"/><circle cx="1226" cy="96" r="1"/><circle cx="1226" cy="104" r="1"/><circle cx="1226" cy="112" r="1"/><circle cx="1226" cy="120" r="1"/><circle cx="1226" cy="128" r="1"/>
<circle cx="215" cy="332" r="1"/><circle cx="221" cy="332" r="1"/><circle cx="227" cy="332" r="1"/><circle cx="233" cy="332" r="1"/>
<circle cx="215" cy="351" r="1"/><circle cx="221" cy="351" r="1"/><circle cx="227" cy="351" r="1"/><circle cx="233" cy="351" r="1"/>
</g>
<g stroke="#9a9a9a" stroke-width="1" stroke-dasharray="1,1" fill="none">
<rect x="207.5" y="324.5" width="36" height="36"/>
</g>

<!-- labels -->
<text class="lbl" x="225" y="347" font-size="11" text-anchor="middle" textLength="24" lengthAdjust="spacingAndGlyphs">U500</text>
<text class="lbl" transform="translate(169,387) rotate(90)" font-size="7" text-anchor="middle" dominant-baseline="central">J500</text>
<text class="lbl" transform="translate(203,428) rotate(-90)" font-size="7" text-anchor="middle" dominant-baseline="central" textLength="29" lengthAdjust="spacingAndGlyphs">SW4003</text>
<text class="lbl" transform="translate(228,428) rotate(-90)" font-size="7" text-anchor="middle" dominant-baseline="central" textLength="29" lengthAdjust="spacingAndGlyphs">SW4010</text>
<text class="lbl" transform="translate(1085,323) rotate(-90)" font-size="14" text-anchor="middle" dominant-baseline="central">U2</text>
<text class="lbl" x="1115" y="339" font-size="5" text-anchor="middle">J4008</text>
<text class="lbl" transform="translate(1216,105) rotate(-90)" font-size="16" text-anchor="middle" dominant-baseline="central" textLength="40" lengthAdjust="spacingAndGlyphs">J4100</text>
<text class="lbl" transform="translate(1462,193) rotate(-90)" font-size="10" text-anchor="middle" dominant-baseline="central" textLength="22" lengthAdjust="spacingAndGlyphs">U400</text>
<text class="lbl" transform="translate(1196,460) rotate(-90)" font-size="7" text-anchor="middle" dominant-baseline="central" textLength="27" lengthAdjust="spacingAndGlyphs">SW4014</text>
<text class="lbl" transform="translate(1235,494) rotate(-90)" font-size="7" text-anchor="middle" dominant-baseline="central" textLength="27" lengthAdjust="spacingAndGlyphs">SW4011</text>
<text class="lbl" x="1362" y="557" font-size="15" text-anchor="middle" textLength="36" lengthAdjust="spacingAndGlyphs">J1502</text>
</svg>
</body></html>
